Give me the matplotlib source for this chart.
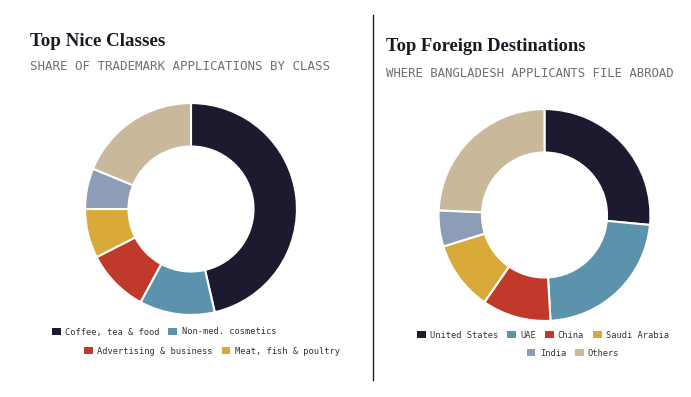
import matplotlib.pyplot as plt
from matplotlib.patches import Patch
from matplotlib.lines import Line2D

# left donut: top Nice classes (share of applications, %)
class_labels = ['Coffee, tea & food', 'Non-med. cosmetics', 'Advertising & business',
                'Meat, fish & poultry', 'Other class', 'Others']
class_shares = [46.4, 11.5, 9.6, 7.5, 6.2, 18.8]

# right donut: foreign destinations (%)
dest_labels = ['United States', 'UAE', 'China', 'Saudi Arabia', 'India', 'Others']
dest_shares = [26.5, 22.6, 10.5, 10.6, 5.5, 24.3]

colors = ['#1c1a2e', '#5b93ad', '#c0392b', '#d9a93a', '#8d9db5', '#c9b99a']

W, H = 691, 397
fig = plt.figure(figsize=(W / 100, H / 100), dpi=100)
fig.patch.set_facecolor('white')

serif = ['Liberation Serif', 'DejaVu Serif']
mono = ['DejaVu Sans Mono']


def donut(cx, cy, r, values):
    # cx, cy in pixels from top-left
    ax = fig.add_axes([(cx - r) / W, (H - cy - r) / H, 2 * r / W, 2 * r / H])
    ax.pie(values, colors=colors, startangle=90, counterclock=False, radius=1,
           wedgeprops=dict(width=0.41, edgecolor='white', linewidth=1.5))
    ax.set_xlim(-1.01, 1.01)
    ax.set_ylim(-1.01, 1.01)
    ax.set_aspect('equal')
    ax.axis('off')
    return ax


def legend_row(items, cx, cy):
    handles = [Patch(facecolor=colors[i], edgecolor='none', label=lbl) for i, lbl in items]
    fig.legend(handles=handles, loc='center', bbox_to_anchor=(cx / W, 1 - cy / H),
               ncol=len(handles), frameon=False, handlelength=1.0, handleheight=0.7,
               handletextpad=0.5, columnspacing=1.0, borderaxespad=0, borderpad=0,
               prop={'family': mono, 'size': 6.3}, labelcolor='#333333')


# titles
fig.text(30 / W, 1 - 46 / H, 'Top Nice Classes', family=serif, weight='bold',
         size=13.6, color='#1a1a24', ha='left', va='baseline')
fig.text(30 / W, 1 - 70 / H, 'SHARE OF TRADEMARK APPLICATIONS BY CLASS', family=mono,
         size=9.0, color='#707070', ha='left', va='baseline')
fig.text(386 / W, 1 - 51 / H, 'Top Foreign Destinations', family=serif, weight='bold',
         size=13.4, color='#1a1a24', ha='left', va='baseline')
fig.text(386 / W, 1 - 77 / H, 'WHERE BANGLADESH APPLICANTS FILE ABROAD', family=mono,
         size=8.85, color='#707070', ha='left', va='baseline')

# divider
fig.add_artist(Line2D([373 / W, 373 / W], [1 - 15 / H, 1 - 380 / H], color='#222222', lw=1))

donut(191, 209, 107, class_shares)
donut(544.5, 215, 107, dest_shares)

legend_row([(0, class_labels[0]), (1, class_labels[1])], 164, 332)
legend_row([(2, class_labels[2]), (3, class_labels[3])], 212, 351)
legend_row([(i, dest_labels[i]) for i in range(4)], 543, 335)
legend_row([(4, dest_labels[4]), (5, dest_labels[5])], 573, 353)

fig.savefig('out.png', dpi=100, facecolor='white')
